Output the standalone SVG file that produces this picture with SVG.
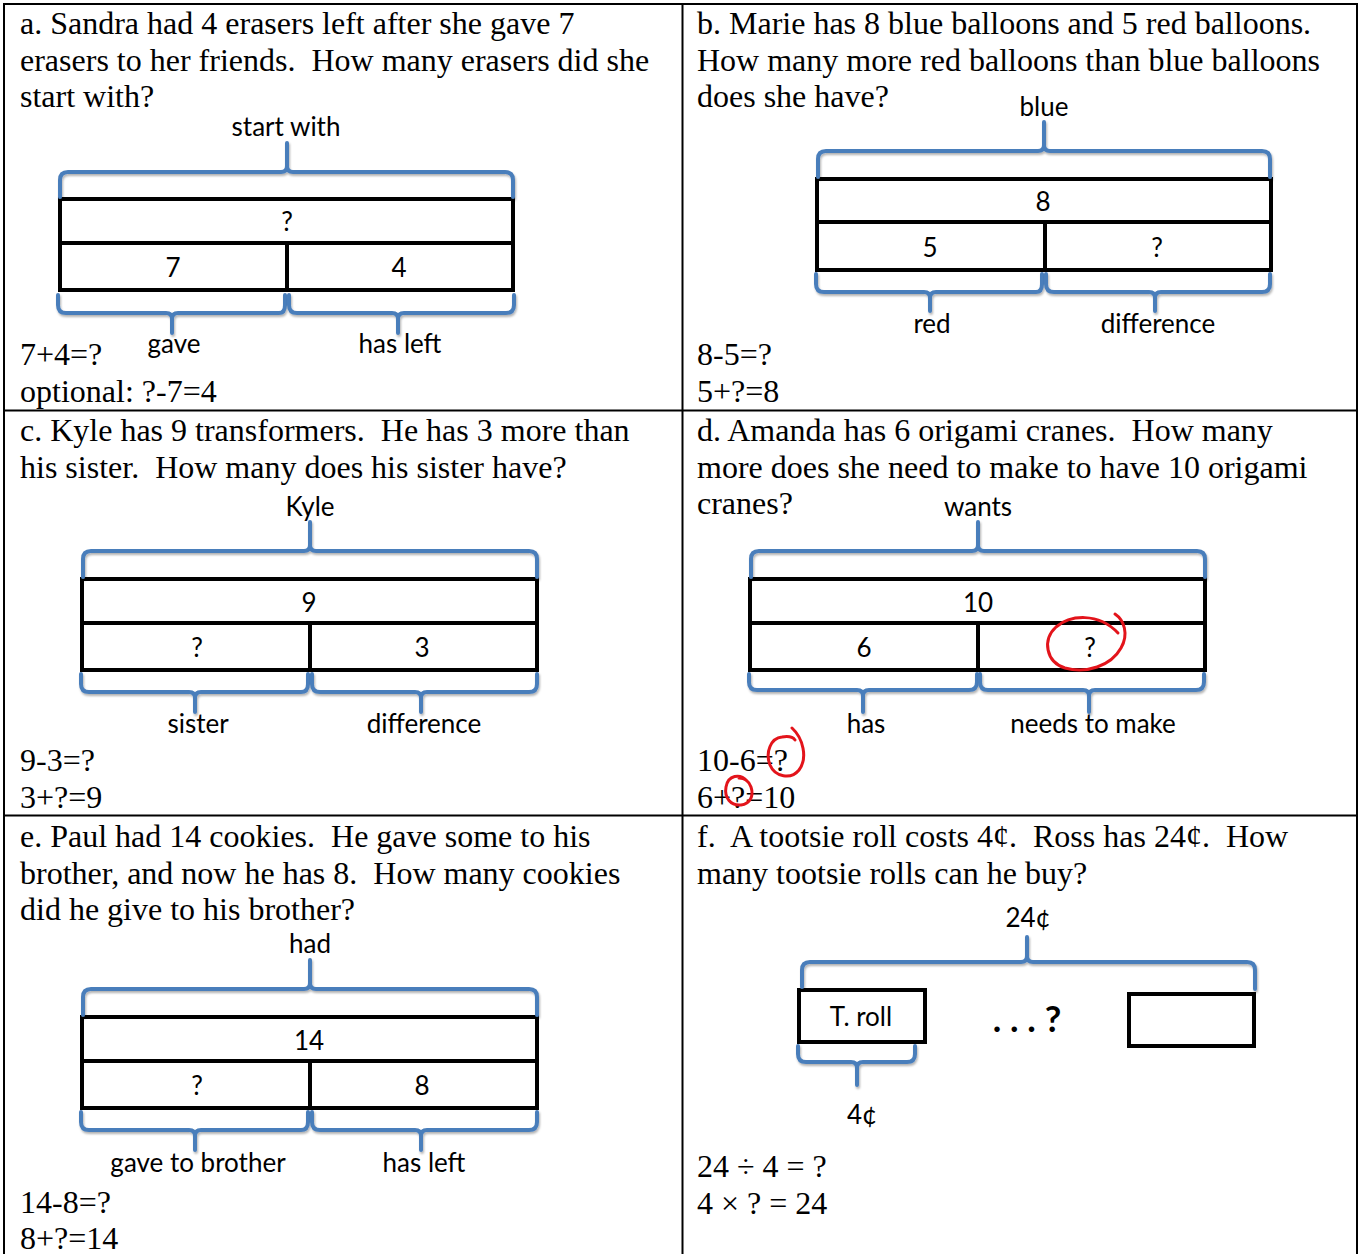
<svg xmlns="http://www.w3.org/2000/svg" width="1359" height="1254" viewBox="0 0 1359 1254">
<defs>
<style>
.q{font-family:"Liberation Serif","Times New Roman",serif;font-size:32px;fill:#000;white-space:pre}
.lb{font-family:Lato,"Open Sans",sans-serif;font-size:26px;fill:#000;text-anchor:middle}
.dots{font-family:Lato,"Open Sans",sans-serif;font-size:36px;font-weight:bold;fill:#000;text-anchor:middle;white-space:pre}
.grid{stroke:#000;stroke-width:2;fill:none}
.bar{stroke:#000;stroke-width:4;fill:none}
.br{stroke:#4a7ebb;stroke-width:4;fill:none;stroke-linecap:round;stroke-linejoin:round;filter:url(#sh)}
.red{stroke:#e3141b;stroke-width:3;fill:none;stroke-linecap:round}
</style>
<filter id="sh" x="-5%" y="-20%" width="110%" height="160%">
<feDropShadow dx="1" dy="2" stdDeviation="1" flood-color="#000" flood-opacity="0.3"/>
</filter>
</defs>
<rect width="1359" height="1254" fill="#fff"/>

<g id="table">
<path class="grid" d="M4,1254 V4 H1357 V1254 M682.5,4 V1254 M4,410.5 H1357 M4,815.5 H1357"/>
</g>

<!-- Cell a -->
<g id="cell-a">
<text class="q" x="20" y="34">a. Sandra had 4 erasers left after she gave 7</text>
<text class="q" x="20" y="71">erasers to her friends.  How many erasers did she</text>
<text class="q" x="20" y="107">start with?</text>
<text class="q" x="20" y="365">7+4=?</text>
<text class="q" x="20" y="402">optional: ?-7=4</text>
<g id="a-bar">
<rect class="bar" x="60" y="199" width="453" height="91"/>
<path class="bar" d="M60,243 H513 M287,243 V290"/>
<text class="lb" x="287" y="231">?</text>
<text class="lb" x="173" y="277">7</text>
<text class="lb" x="399" y="277">4</text>
</g>
<path class="br" d="M60,197 V180 Q60,172 68,172 H281 Q287,172 287,166 V143 M287,166 Q287,172 293,172 H505 Q513,172 513,180 V197"/>
<path class="br" d="M58,295 V305 Q58,313 66,313 H166 Q172,313 172,319 V333 M172,319 Q172,313 178,313 H279 Q285,313 285,305 V295"/>
<path class="br" d="M289,295 V305 Q289,313 297,313 H392 Q398,313 398,319 V333 M398,319 Q398,313 404,313 H506 Q514,313 514,305 V295"/>
<text class="lb" x="286" y="136">start with</text>
<text class="lb" x="174" y="353">gave</text>
<text class="lb" x="400" y="353">has left</text>
</g>

<!-- Cell b -->
<g id="cell-b">
<text class="q" x="697" y="34">b. Marie has 8 blue balloons and 5 red balloons.</text>
<text class="q" x="697" y="71">How many more red balloons than blue balloons</text>
<text class="q" x="697" y="107">does she have?</text>
<text class="q" x="697" y="365">8-5=?</text>
<text class="q" x="697" y="402">5+?=8</text>
<g id="b-bar">
<rect class="bar" x="817" y="179" width="454" height="91"/>
<path class="bar" d="M817,222 H1271 M1045,222 V270"/>
<text class="lb" x="1043" y="211">8</text>
<text class="lb" x="930" y="257">5</text>
<text class="lb" x="1157" y="257">?</text>
</g>
<path class="br" d="M818,177 V159 Q818,151 826,151 H1038 Q1044,151 1044,145 V122 M1044,145 Q1044,151 1050,151 H1262 Q1270,151 1270,159 V177"/>
<path class="br" d="M816,274 V284 Q816,292 824,292 H924 Q930,292 930,298 V311 M930,298 Q930,292 936,292 H1036 Q1042,292 1042,284 V274"/>
<path class="br" d="M1046,274 V284 Q1046,292 1054,292 H1149 Q1155,292 1155,298 V311 M1155,298 Q1155,292 1161,292 H1262 Q1270,292 1270,284 V274"/>
<text class="lb" x="1044" y="116">blue</text>
<text class="lb" x="932" y="333">red</text>
<text class="lb" x="1158" y="333">difference</text>
</g>

<!-- Cell c -->
<g id="cell-c">
<text class="q" x="20" y="441">c. Kyle has 9 transformers.  He has 3 more than</text>
<text class="q" x="20" y="478">his sister.  How many does his sister have?</text>
<text class="q" x="20" y="771">9-3=?</text>
<text class="q" x="20" y="808">3+?=9</text>
<g id="c-bar">
<rect class="bar" x="82" y="579" width="455" height="91"/>
<path class="bar" d="M82,623 H537 M310,623 V670"/>
<text class="lb" x="309" y="612">9</text>
<text class="lb" x="197" y="657">?</text>
<text class="lb" x="422" y="657">3</text>
</g>
<path class="br" d="M83,577 V559 Q83,551 91,551 H304 Q310,551 310,545 V522 M310,545 Q310,551 316,551 H529 Q537,551 537,559 V577"/>
<path class="br" d="M81,674 V684 Q81,692 89,692 H189 Q195,692 195,698 V712 M195,698 Q195,692 201,692 H301 Q308,692 308,684 V674"/>
<path class="br" d="M312,674 V684 Q312,692 320,692 H415 Q421,692 421,698 V712 M421,698 Q421,692 427,692 H529 Q537,692 537,684 V674"/>
<text class="lb" x="310" y="516">Kyle</text>
<text class="lb" x="198" y="733">sister</text>
<text class="lb" x="424" y="733">difference</text>
</g>

<!-- Cell d -->
<g id="cell-d">
<text class="q" x="697" y="441">d. Amanda has 6 origami cranes.  How many</text>
<text class="q" x="697" y="478">more does she need to make to have 10 origami</text>
<text class="q" x="697" y="514">cranes?</text>
<text class="q" x="697" y="771">10-6=?</text>
<text class="q" x="697" y="808">6+?=10</text>
<g id="d-bar">
<rect class="bar" x="750" y="579" width="455" height="91"/>
<path class="bar" d="M750,623 H1205 M978,623 V670"/>
<text class="lb" x="978" y="612">10</text>
<text class="lb" x="864" y="657">6</text>
<text class="lb" x="1090" y="657">?</text>
</g>
<path class="br" d="M751,577 V559 Q751,551 759,551 H972 Q978,551 978,545 V522 M978,545 Q978,551 984,551 H1197 Q1205,551 1205,559 V577"/>
<path class="br" d="M749,674 V682 Q749,690 757,690 H857 Q863,690 863,696 V712 M863,696 Q863,690 869,690 H969 Q977,690 977,682 V674"/>
<path class="br" d="M980,674 V682 Q980,690 988,690 H1083 Q1089,690 1089,696 V712 M1089,696 Q1089,690 1095,690 H1196 Q1204,690 1204,682 V674"/>
<text class="lb" x="978" y="516">wants</text>
<text class="lb" x="866" y="733">has</text>
<text class="lb" x="1093" y="733">needs to make</text>
<path class="red" d="M1115,614 C1124,620 1129,634 1121,648 C1111,666 1086,674 1065,668 C1046,662 1042,640 1056,627 C1070,615 1098,612 1118,633"/>
<path class="red" d="M792,728 C803,738 808,758 799,770 C791,780 775,777 770,765 C765,752 771,738 782,737 C788,736 793,737 795,740"/>
<path class="red" d="M747,781 C740,773 728,775 726,787 C724,798 731,806 741,805 C750,804 754,796 751,787 C749,781 744,778 739,778"/>
</g>

<!-- Cell e -->
<g id="cell-e">
<text class="q" x="20" y="847">e. Paul had 14 cookies.  He gave some to his</text>
<text class="q" x="20" y="884">brother, and now he has 8.  How many cookies</text>
<text class="q" x="20" y="920">did he give to his brother?</text>
<text class="q" x="20" y="1213">14-8=?</text>
<text class="q" x="20" y="1249">8+?=14</text>
<g id="e-bar">
<rect class="bar" x="82" y="1017" width="455" height="91"/>
<path class="bar" d="M82,1061 H537 M310,1061 V1108"/>
<text class="lb" x="309" y="1050">14</text>
<text class="lb" x="197" y="1095">?</text>
<text class="lb" x="422" y="1095">8</text>
</g>
<path class="br" d="M83,1015 V997 Q83,989 91,989 H304 Q310,989 310,983 V960 M310,983 Q310,989 316,989 H529 Q537,989 537,997 V1015"/>
<path class="br" d="M81,1112 V1122 Q81,1130 89,1130 H189 Q195,1130 195,1136 V1150 M195,1136 Q195,1130 201,1130 H301 Q308,1130 308,1122 V1112"/>
<path class="br" d="M312,1112 V1122 Q312,1130 320,1130 H415 Q421,1130 421,1136 V1150 M421,1136 Q421,1130 427,1130 H529 Q537,1130 537,1122 V1112"/>
<text class="lb" x="310" y="953">had</text>
<text class="lb" x="198" y="1172">gave to brother</text>
<text class="lb" x="424" y="1172">has left</text>
</g>

<!-- Cell f -->
<g id="cell-f">
<text class="q" x="697" y="847">f.  A tootsie roll costs 4¢.  Ross has 24¢.  How</text>
<text class="q" x="697" y="884">many tootsie rolls can he buy?</text>
<text class="q" x="697" y="1177">24 ÷ 4 = ?</text>
<text class="q" x="697" y="1214">4 × ? = 24</text>
<g id="f-roll">
<rect class="bar" x="799" y="990" width="126" height="52"/>
<text class="lb" x="861" y="1026">T. roll</text>
</g>
<g id="f-last">
<rect class="bar" x="1129" y="994" width="125" height="52"/>
</g>
<text class="dots" x="1027" y="1032">. . . ?</text>
<path class="br" d="M802,987 V970 Q802,962 810,962 H1021 Q1027,962 1027,956 V937 M1027,956 Q1027,962 1033,962 H1247 Q1255,962 1255,970 V989"/>
<path class="br" d="M798,1046 V1054 Q798,1062 806,1062 H851 Q857,1062 857,1068 V1085 M857,1068 Q857,1062 863,1062 H907 Q915,1062 915,1054 V1046"/>
<text class="lb" x="1028" y="927">24¢</text>
<text class="lb" x="862" y="1124">4¢</text>
</g>
</svg>
